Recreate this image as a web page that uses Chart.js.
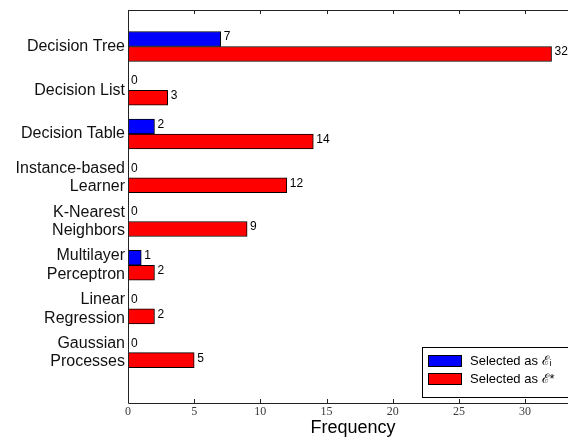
<!DOCTYPE html>
<html>
<head>
<meta charset="utf-8">
<script src="https://cdn.jsdelivr.net/npm/chart.js@4"></script>
<style>
    html, body { margin: 0; padding: 0; overflow: hidden; background: #fff; }
    canvas { display: block; }
</style>
</head>
<body>
<canvas id="grafico" width="580" height="439" style="width:580px;height:439px"></canvas>
<script>
// Categorias (de cima para baixo) e valores de cada série
const categorias = [
    ["Decision Tree"],
    ["Decision List"],
    ["Decision Table"],
    ["Instance-based", "Learner"],
    ["K-Nearest", "Neighbors"],
    ["Multilayer", "Perceptron"],
    ["Linear", "Regression"],
    ["Gaussian", "Processes"]
];
const selecionadoEi = [7, 0, 2, 0, 0, 1, 0, 0];
const selecionadoEstrela = [32, 3, 14, 12, 9, 2, 2, 5];
const ticksX = [0, 5, 10, 15, 20, 25, 30];

const fonteSans = "'Liberation Sans', Arial, sans-serif";

// Bordas do gráfico e marcas dos ticks apontando para dentro
const molduraPlugin = {
    id: "moldura",
    afterDatasetsDraw(chart) {
        const { ctx, chartArea: a, scales } = chart;
        ctx.save();
        ctx.strokeStyle = "#222";
        ctx.lineWidth = 1;
        ctx.beginPath();
        ctx.moveTo(a.left + 0.5, a.top + 0.5);
        ctx.lineTo(a.right, a.top + 0.5);
        ctx.moveTo(a.left + 0.5, a.top);
        ctx.lineTo(a.left + 0.5, a.bottom + 0.5);
        ctx.lineTo(a.right, a.bottom + 0.5);
        scales.x.ticks.forEach(t => {
            const px = Math.round(scales.x.getPixelForValue(t.value)) + 0.5;
            ctx.moveTo(px, a.bottom);
            ctx.lineTo(px, a.bottom - 4);
            ctx.moveTo(px, a.top);
            ctx.lineTo(px, a.top + 4);
        });
        ctx.stroke();
        ctx.restore();
    }
};

// Números ao lado de cada barra
const rotulosPlugin = {
    id: "rotulos",
    afterDatasetsDraw(chart) {
        const ctx = chart.ctx;
        ctx.save();
        ctx.font = "12px " + fonteSans;
        ctx.fillStyle = "#000";
        ctx.textAlign = "left";
        ctx.textBaseline = "middle";
        chart.data.datasets.forEach((ds, i) => {
            chart.getDatasetMeta(i).data.forEach((el, j) => {
                ctx.fillText(String(ds.data[j].x), el.x + 3, el.y - 2);
            });
        });
        ctx.restore();
    }
};

// Legenda no canto inferior direito, dentro da área do gráfico
const legendaPlugin = {
    id: "legendaCaixa",
    afterDraw(chart) {
        const { ctx, chartArea: a } = chart;
        const direita = a.right - 7, base = a.bottom - 6;
        const largura = 149, altura = 50;
        const esq = direita - largura, topo = base - altura;
        ctx.save();
        ctx.fillStyle = "#fff";
        ctx.fillRect(esq, topo, largura, altura);
        ctx.strokeStyle = "#000";
        ctx.lineWidth = 1;
        ctx.strokeRect(Math.round(esq) + 0.5, Math.round(topo) + 0.5, largura, altura);
        ctx.font = "13px " + fonteSans;
        ctx.textBaseline = "middle";
        ctx.textAlign = "left";
        chart.data.datasets.forEach((ds, i) => {
            const y = topo + 8 + i * 18;
            ctx.fillStyle = ds.backgroundColor;
            ctx.fillRect(esq + 6, y, 33, 11);
            ctx.strokeStyle = "#000";
            ctx.strokeRect(esq + 6.5, y + 0.5, 33, 11);
            ctx.fillStyle = "#000";
            ctx.fillText(ds.label, esq + 48, y + 6);
        });
        ctx.restore();
    }
};

const ctx = document.getElementById("grafico").getContext("2d");

new Chart(ctx, {
    type: "bar",
    data: {
        datasets: [{
            label: "Selected as ℰᵢ",
            data: selecionadoEi.map((v, i) => ({ x: v, y: i })),
            backgroundColor: "#0000ff",
            borderColor: "#000",
            borderWidth: 1,
            borderSkipped: false
        }, {
            label: "Selected as ℰ*",
            data: selecionadoEstrela.map((v, i) => ({ x: v, y: i })),
            backgroundColor: "#ff0000",
            borderColor: "#000",
            borderWidth: 1,
            borderSkipped: false
        }]
    },
    options: {
        indexAxis: "y",
        responsive: false,
        animation: false,
        barThickness: 15,
        layout: { padding: { top: 10, right: 2, left: 0, bottom: 0 } },
        plugins: {
            legend: { display: false },
            tooltip: { enabled: false }
        },
        scales: {
            x: {
                type: "linear",
                min: 0,
                max: 34,
                offset: false,
                grid: { display: false, drawTicks: false },
                border: { display: false },
                afterBuildTicks: s => { s.ticks = ticksX.map(v => ({ value: v })); },
                afterFit: s => { s.height = 36; s.paddingLeft = 0; s.paddingRight = 0; },
                ticks: {
                    padding: 2,
                    color: "#3a3a3a",
                    font: { family: "'Liberation Serif', 'DejaVu Serif', serif", size: 12 }
                },
                title: {
                    display: true,
                    text: "Frequency",
                    color: "#000",
                    padding: { top: 0, bottom: 0 },
                    font: { family: fonteSans, size: 18 }
                }
            },
            y: {
                type: "linear",
                reverse: true,
                offset: false,
                min: -0.834,
                max: 8.15,
                grid: { display: false, drawTicks: false },
                border: { display: false },
                afterBuildTicks: s => { s.ticks = categorias.map((c, i) => ({ value: i })); },
                afterFit: s => { s.width = 128; s.paddingTop = 0; s.paddingBottom = 0; },
                ticks: {
                    padding: 3,
                    color: "#111",
                    autoSkip: false,
                    font: { family: fonteSans, size: 16, lineHeight: 1.15 },
                    callback: v => categorias[v]
                }
            }
        }
    },
    plugins: [molduraPlugin, rotulosPlugin, legendaPlugin]
});
</script>
</body>
</html>
